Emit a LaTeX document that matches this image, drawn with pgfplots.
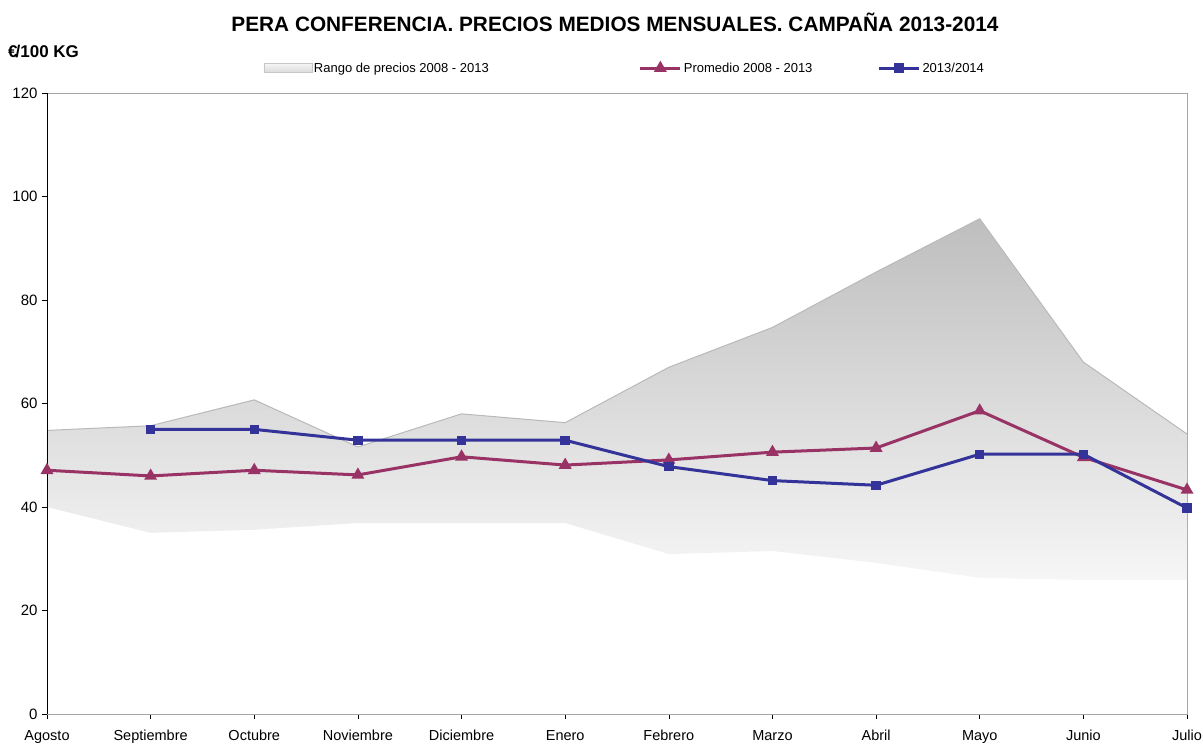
\documentclass[border=0pt]{standalone}
\usepackage{pgfplots}
\pgfplotsset{compat=1.18}
\usepackage{fontspec}
\setmainfont{Liberation Sans}
\definecolor{promedio}{RGB}{153,51,102}
\definecolor{campana}{RGB}{51,51,153}
\definecolor{bandtop}{RGB}{190,190,190}
\definecolor{bandbot}{RGB}{246,246,246}
\definecolor{bandedge}{RGB}{185,185,185}
\pgfplotsset{
  mylineleg/.style={legend image code/.code={\draw[mark repeat=2,mark phase=2,##1] plot coordinates {(0pt,0pt) (20pt,0pt) (40pt,0pt)};}},
  myarealeg/.style={legend image code/.code={\draw[draw=gray!45, top color=gray!8, bottom color=gray!30] (0pt,-4.5pt) rectangle (48pt,4.5pt);}},
}
\begin{document}
\begin{tikzpicture}
\path[use as bounding box] (-47pt,-30pt) rectangle (1156pt,714pt);
\begin{axis}[
  at={(0pt,0pt)}, anchor=south west,
  scale only axis, width=1140pt, height=621pt,
  xmin=0, xmax=11, ymin=0, ymax=120,
  xtick={0,...,11},
  xticklabels={Agosto,Septiembre,Octubre,Noviembre,Diciembre,Enero,Febrero,Marzo,Abril,Mayo,Junio,Julio},
  ytick={0,20,...,120},
  tick align=outside, xtick pos=left, ytick pos=left,
  major tick length=5pt,
  tick style={black, line width=0.6pt},
  axis line style={draw=gray!70, line width=0.8pt},
  ticklabel style={font=\fontsize{15}{18}\selectfont},
  /pgf/number format/assume math mode=true,
  xticklabel style={yshift=-7pt, font=\fontsize{14.5}{17}\selectfont, text height=10.5pt, text depth=3pt},
  yticklabel style={xshift=-1pt},
  legend columns=3,
  legend cell align=left,
  legend style={at={(0.5068,1.040)}, anchor=center, draw=none, fill=none,
    font=\fontsize{13}{15}\selectfont, /tikz/every even column/.append style={column sep=2pt}},
]
% price range band
\addplot[draw=none, top color=bandtop, bottom color=bandbot, myarealeg]
 coordinates {(0,54.8) (1,55.7) (2,60.7) (3,51.6) (4,58.0) (5,56.3) (6,67.0) (7,74.7) (8,85.4) (9,95.7) (10,68.0) (11,54.1)
  (11,25.9) (10,25.9) (9,26.3) (8,29.2) (7,31.5) (6,30.9) (5,36.9) (4,36.9) (3,36.9) (2,35.6) (1,35.0) (0,40.0)} -- cycle;
\addlegendentry{Rango de precios 2008 - 2013\hspace*{146pt}}
\addplot[bandedge, line width=1pt, forget plot]
 coordinates {(0,54.8) (1,55.7) (2,60.7) (3,51.6) (4,58.0) (5,56.3) (6,67.0) (7,74.7) (8,85.4) (9,95.7) (10,68.0) (11,54.1)};
% promedio
\addplot[promedio, line width=3pt, mark=triangle*, mark size=4.5pt, mark options={solid}, mylineleg]
 coordinates {(0,47.1) (1,46.0) (2,47.1) (3,46.2) (4,49.7) (5,48.1) (6,49.1) (7,50.6) (8,51.4) (9,58.6) (10,49.6) (11,43.3)};
\addlegendentry{Promedio 2008 - 2013\hspace*{61pt}}
% 2013/2014
\addplot[campana, line width=3pt, mark=square*, mark size=3.2pt, mark options={solid}, mylineleg]
 coordinates {(1,55.0) (2,55.0) (3,52.9) (4,52.9) (5,52.9) (6,47.8) (7,45.1) (8,44.2) (9,50.2) (10,50.2) (11,39.8)};
\addlegendentry{2013/2014}
\draw[black, line width=0.8pt] (rel axis cs:0,0) -- (rel axis cs:0,1);
\draw[black, line width=0.8pt] (rel axis cs:0,0) -- (rel axis cs:1,0);
\end{axis}
\node[font=\fontsize{20.8}{24}\selectfont\bfseries] at (568pt,692pt) {PERA CONFERENCIA. PRECIOS MEDIOS MENSUALES. CAMPAÑA 2013-2014};
\node[font=\fontsize{17}{20}\selectfont\bfseries, anchor=west, inner sep=0pt] at (-39pt,662pt) {€\kern-2pt/100 KG};
\end{tikzpicture}
\end{document}
